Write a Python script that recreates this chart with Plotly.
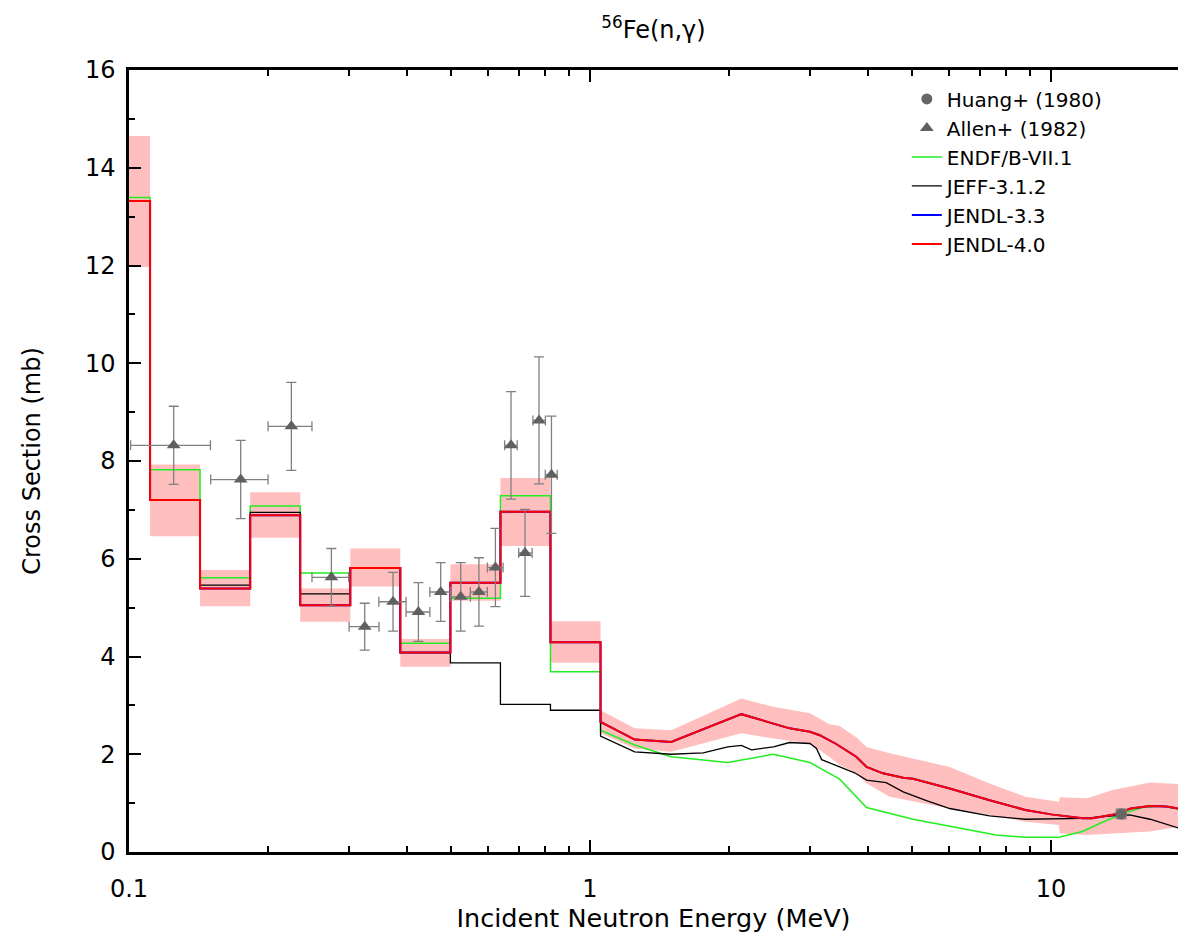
import plotly.graph_objects as go

# ---------------- data ----------------
# group boundaries (MeV) of the averaged region
bin_edges = [0.1, 0.1111, 0.1426, 0.1832, 0.2352, 0.3020, 0.3877, 0.4979, 0.6393, 0.8208, 1.0540]

# group-averaged cross sections (mb)
jendl40_steps = [13.32, 7.20, 5.39, 6.89, 5.05, 5.81, 4.08, 5.51, 6.96, 4.29]
jendl33_steps = [13.32, 7.20, 5.39, 6.89, 5.05, 5.81, 4.08, 5.51, 6.96, 4.29]
endf_steps    = [13.39, 7.82, 5.61, 7.08, 5.71, 5.81, 4.27, 5.19, 7.29, 3.69]
jeff_steps    = [13.32, 7.20, 5.46, 6.95, 5.28, 5.81, 4.08, 3.87, 3.02, 2.90]
band_up_steps = [14.65, 7.93, 5.77, 7.36, 5.39, 6.21, 4.36, 5.89, 7.65, 4.72]
band_lo_steps = [11.97, 6.46, 5.03, 6.43, 4.71, 5.43, 3.79, 5.14, 6.26, 3.87]

# pointwise region above ~1 MeV
jendl40_E  = [1.054, 1.25, 1.50, 2.13, 2.71, 3.00, 3.15, 3.42, 3.78, 3.98, 4.32, 4.78, 5.02, 6.03, 7.36, 8.80, 10.0, 11.7, 12.3, 13.6, 14.9, 16.4, 17.8, 18.8, 20.0]
jendl40_xs = [2.66, 2.30, 2.25, 2.82, 2.53, 2.46, 2.39, 2.21, 1.95, 1.74, 1.61, 1.52, 1.50, 1.30, 1.06, 0.86, 0.77, 0.69, 0.69, 0.76, 0.89, 0.94, 0.93, 0.89, 0.85]
jendl33_E  = [1.054, 1.25, 1.50, 2.13, 2.71, 3.00, 3.15, 3.42, 3.78, 3.98, 4.32, 4.78, 5.02, 6.03, 7.36, 8.80, 10.0, 11.7, 12.3, 13.6, 14.9, 16.4, 17.8, 18.8, 20.0]
jendl33_xs = [2.66, 2.30, 2.25, 2.82, 2.53, 2.46, 2.39, 2.21, 1.95, 1.74, 1.61, 1.52, 1.50, 1.30, 1.06, 0.86, 0.77, 0.69, 0.69, 0.76, 0.89, 0.94, 0.93, 0.89, 0.85]
jeff_E  = [1.054, 1.25, 1.50, 1.76, 1.99, 2.13, 2.24, 2.50, 2.71, 3.00, 3.10, 3.18, 3.48, 3.75, 3.98, 4.39, 4.78, 5.37, 6.03, 7.36, 8.80, 11.7, 13.6, 14.8, 16.4, 18.8, 20.0]
jeff_xs = [2.37, 2.05, 2.00, 2.03, 2.15, 2.18, 2.09, 2.15, 2.24, 2.22, 2.12, 1.89, 1.74, 1.62, 1.47, 1.42, 1.23, 1.05, 0.89, 0.74, 0.67, 0.69, 0.74, 0.76, 0.67, 0.50, 0.42]
endf_E  = [1.054, 1.25, 1.50, 1.99, 2.50, 3.00, 3.48, 3.98, 5.02, 6.03, 7.60, 8.80, 10.4, 11.7, 13.0, 14.4, 15.8, 17.3, 18.8, 20.0]
endf_xs = [2.49, 2.19, 1.95, 1.83, 2.00, 1.83, 1.49, 0.91, 0.67, 0.53, 0.35, 0.30, 0.30, 0.42, 0.62, 0.79, 0.91, 0.94, 0.89, 0.84]
band_E  = [1.054, 1.25, 1.50, 2.13, 2.50, 3.00, 3.30, 3.48, 3.78, 3.98, 4.47, 6.03, 7.36, 8.80, 10.4, 10.45, 12.0, 13.6, 16.4, 20.0]
band_up = [2.90, 2.53, 2.49, 3.14, 2.97, 2.84, 2.62, 2.58, 2.35, 2.15, 2.02, 1.74, 1.40, 1.13, 1.03, 1.12, 1.10, 1.27, 1.42, 1.38]
band_lo = [2.43, 2.12, 2.05, 2.43, 2.32, 2.22, 1.95, 1.78, 1.62, 1.40, 1.13, 0.89, 0.76, 0.62, 0.55, 0.38, 0.35, 0.38, 0.42, 0.55]

# experimental data
allen_E    = [0.125, 0.1747, 0.2250, 0.2748, 0.3246, 0.3739, 0.4244, 0.4744, 0.5243, 0.5742, 0.6234, 0.6740, 0.7228, 0.7752, 0.8249]
allen_E_lo = [0.1008, 0.1504, 0.2003, 0.2494, 0.3003, 0.3483, 0.3990, 0.4494, 0.4987, 0.5502, 0.5990, 0.6528, 0.7004, 0.7520, 0.7999]
allen_E_hi = [0.1502, 0.2003, 0.2494, 0.2996, 0.3486, 0.3990, 0.4494, 0.4987, 0.5502, 0.5989, 0.6478, 0.6951, 0.7490, 0.8004, 0.8488]
allen_xs   = [8.32, 7.62, 8.71, 5.62, 4.61, 5.12, 4.91, 5.32, 5.22, 5.32, 5.82, 8.32, 6.12, 8.83, 7.72]
allen_dxs  = [0.80, 0.80, 0.90, 0.59, 0.48, 0.60, 0.60, 0.60, 0.70, 0.70, 0.80, 1.10, 0.89, 1.30, 1.20]
huang_E    = [14.2]
huang_dE   = [0.35]
huang_xs   = [0.78]
huang_dxs  = [0.10]


def step_path(edges, vals):
    xs, ys = [], []
    for i, v in enumerate(vals):
        xs += [edges[i], edges[i + 1]]
        ys += [v, v]
    return xs, ys


def full_curve(edges, steps, E, xs):
    sx, sy = step_path(edges, steps)
    return sx + list(E), sy + list(xs)


FONT = "DejaVu Sans"
fig = go.Figure()

# uncertainty band of JENDL-4.0
ux, uy = full_curve(bin_edges, band_up_steps, band_E, band_up)
lx, ly = full_curve(bin_edges, band_lo_steps, band_E, band_lo)
fig.add_trace(go.Scatter(
    x=ux + lx[::-1], y=uy + ly[::-1], fill="toself", mode="lines",
    fillcolor="rgba(255,170,170,0.75)", line=dict(width=0), showlegend=False, hoverinfo="skip"))

curves = [
    ("ENDF/B-VII.1", endf_steps, endf_E, endf_xs, "#22ee22", 1.5, 3),
    ("JEFF-3.1.2", jeff_steps, jeff_E, jeff_xs, "#000000", 1.3, 4),
    ("JENDL-3.3", jendl33_steps, jendl33_E, jendl33_xs, "#0000ff", 2.0, 5),
    ("JENDL-4.0", jendl40_steps, jendl40_E, jendl40_xs, "#ff0000", 2.0, 6),
]
for name, st, E, xs, col, w, rank in curves:
    cx, cy = full_curve(bin_edges, st, E, xs)
    fig.add_trace(go.Scatter(x=cx, y=cy, mode="lines", name=name,
                             line=dict(color=col, width=w), legendrank=rank))

fig.add_trace(go.Scatter(
    x=huang_E, y=huang_xs, mode="markers", name="Huang+ (1980)", legendrank=1,
    marker=dict(symbol="circle", size=11, color="#666666"),
    error_x=dict(type="data", array=huang_dE, color="#888888", thickness=1.3, width=5),
    error_y=dict(type="data", array=huang_dxs, color="#888888", thickness=1.3, width=5)))

plus_x = [h - e for h, e in zip(allen_E_hi, allen_E)]
minus_x = [e - l for l, e in zip(allen_E_lo, allen_E)]
fig.add_trace(go.Scatter(
    x=allen_E, y=allen_xs, mode="markers", name="Allen+ (1982)", legendrank=2,
    marker=dict(symbol="triangle-up", size=12, color="#606060"),
    error_x=dict(type="data", symmetric=False, array=plus_x, arrayminus=minus_x,
                 color="#808080", thickness=1.3, width=5),
    error_y=dict(type="data", array=allen_dxs, color="#808080", thickness=1.3, width=5)))

minor_x = [0.2, 0.3, 0.4, 0.5, 0.6, 0.7, 0.8, 0.9, 2, 3, 4, 5, 6, 7, 8, 9, 20]

fig.update_layout(
    width=1178, height=941,
    paper_bgcolor="white", plot_bgcolor="white",
    margin=dict(l=129, r=0, t=70, b=89),
    font=dict(family=FONT, color="black", size=22),
    title=dict(text="<sup>56</sup>Fe(n,γ)", x=0.5, xref="paper", xanchor="center",
               y=1 - 30 / 941, yref="container", yanchor="middle", font=dict(size=24, family=FONT)),
    showlegend=True,
    legend=dict(x=0.7415, y=0.988, xanchor="left", yanchor="top", bgcolor="rgba(0,0,0,0)",
                font=dict(size=20, family=FONT), tracegroupgap=0, itemwidth=30),
    xaxis=dict(type="log", range=[-1, 1.2755], tickvals=[0.1, 1, 10], ticktext=["0.1", "1", "10"],
               ticks="inside", ticklen=12, tickwidth=2, tickcolor="black",
               showline=True, linewidth=2.5, linecolor="black", mirror="ticks",
               showgrid=False, zeroline=False, automargin=False,
               minor=dict(tickvals=minor_x, ticks="inside", ticklen=6, tickwidth=1.5,
                          tickcolor="black", showgrid=False),
               tickfont=dict(size=24), ticklabelstandoff=13,
               title=dict(text="Incident Neutron Energy (MeV)", font=dict(size=25.5), standoff=8)),
    yaxis=dict(range=[0, 16], dtick=2, tick0=0, ticks="inside", ticklen=12, tickwidth=2,
               tickcolor="black", showline=True, linewidth=2.5, linecolor="black",
               mirror=False, showgrid=False, zeroline=False, automargin=False,
               minor=dict(dtick=1, ticks="inside", ticklen=6, tickwidth=1.5,
                          tickcolor="black", showgrid=False),
               tickfont=dict(size=24), ticklabelstandoff=6,
               title=dict(text="Cross Section (mb)", font=dict(size=24), standoff=38)),
)

fig.write_html("out.html", config={"displayModeBar": False},
               post_script="document.body.style.margin='0';document.body.style.overflow='hidden';")
